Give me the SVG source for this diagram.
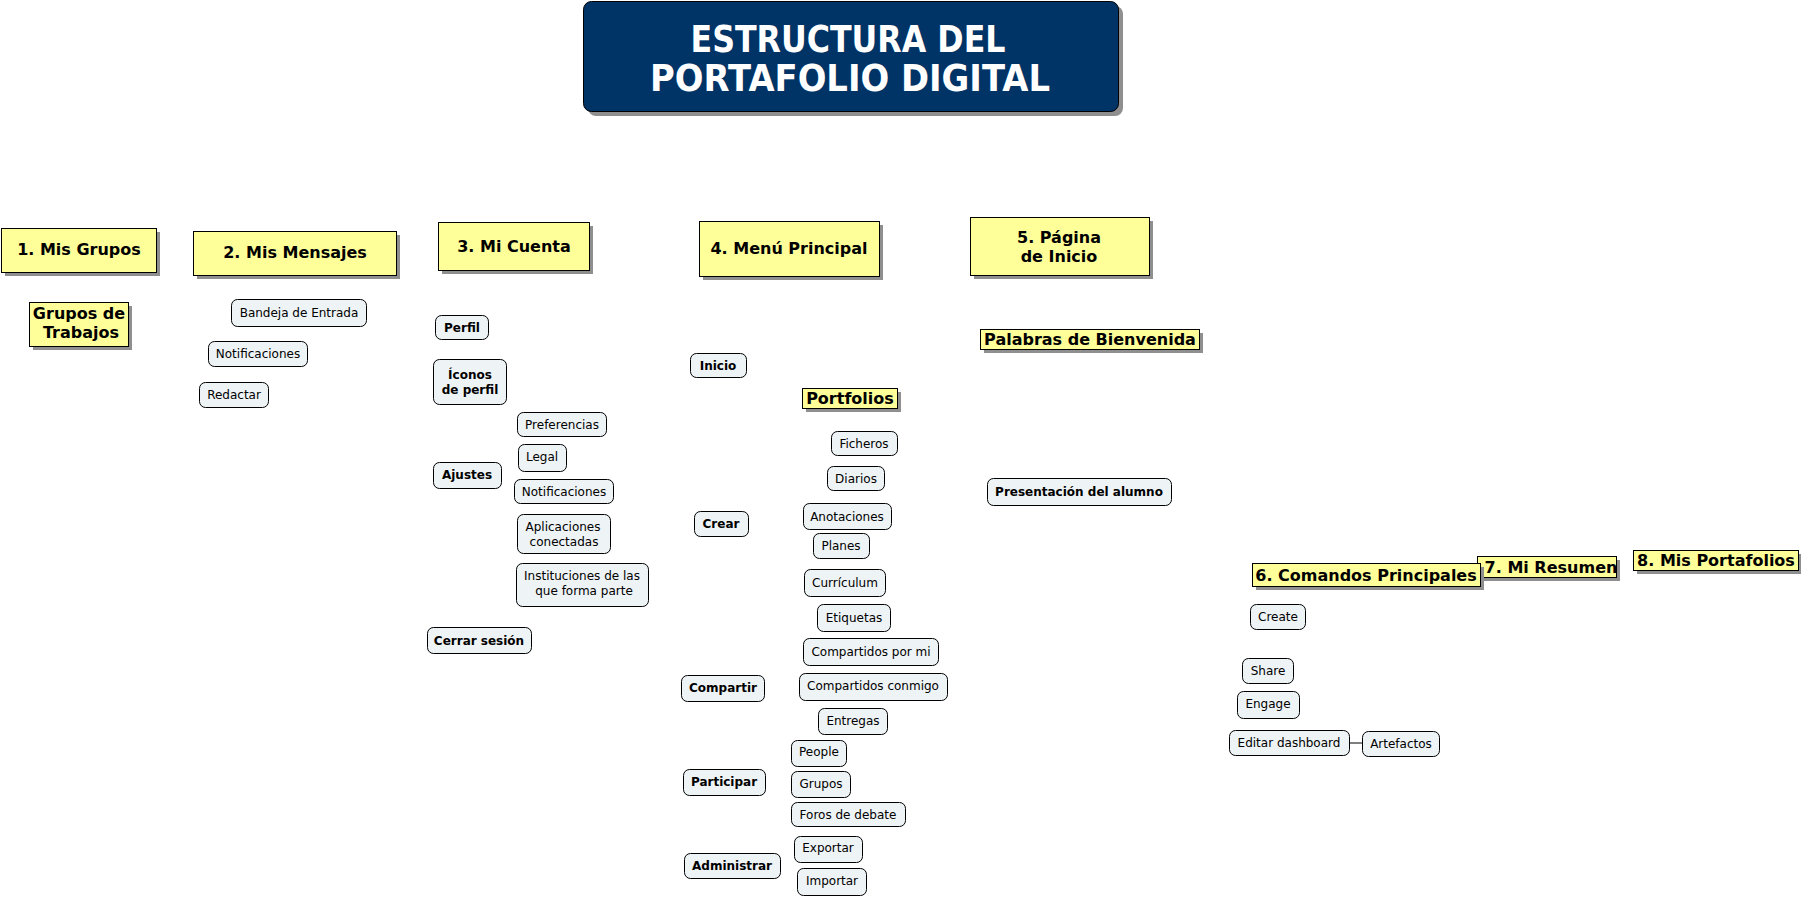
<svg xmlns="http://www.w3.org/2000/svg" width="1801" height="898" viewBox="0 0 1801 898">
<style>
  text { font-family: "DejaVu Sans", Verdana, sans-serif; fill: #000; text-anchor: middle; }
  .y { fill: #FFFF99; stroke: #000; stroke-width: 1; }
  .sh { fill: #8f8f8f; }
  .n { fill: #EEF3F5; stroke: #000; stroke-width: 1; }
  .b16 { font-size: 16px; font-weight: bold; }
  .b12 { font-size: 12px; font-weight: bold; }
  .r12 { font-size: 12px; }
  .title { font-size: 38px; font-weight: bold; fill: #fff; }
  .conn { stroke: #000; stroke-width: 1; fill: none; }
</style>
<rect width="1801" height="898" fill="#fff"/>

<g id="title">
  <rect x="588" y="6" width="535" height="110" rx="8" class="sh"/>
  <rect x="583.5" y="1.5" width="535" height="110" rx="8" fill="#003366" stroke="#000" stroke-width="1"/>
  <text x="848" y="52" class="title" textLength="315" lengthAdjust="spacingAndGlyphs">ESTRUCTURA DEL</text>
  <text x="850" y="91" class="title" textLength="400" lengthAdjust="spacingAndGlyphs">PORTAFOLIO DIGITAL</text>
</g>

<g id="connectors">
  <line x1="1349" y1="743" x2="1362" y2="743" class="conn"/>
</g>

<g id="n1">
  <rect x="5" y="232" width="155" height="44" class="sh"/>
  <rect x="1.5" y="228.5" width="155" height="44" class="y"/>
  <text x="79" y="255" class="b16">1. Mis Grupos</text>
</g>
<g id="n2">
  <rect x="197" y="235" width="203" height="44" class="sh"/>
  <rect x="193.5" y="231.5" width="203" height="44" class="y"/>
  <text x="295" y="258" class="b16">2. Mis Mensajes</text>
</g>
<g id="n3">
  <rect x="442" y="226" width="151" height="48" class="sh"/>
  <rect x="438.5" y="222.5" width="151" height="48" class="y"/>
  <text x="514" y="252" class="b16">3. Mi Cuenta</text>
</g>
<g id="n4">
  <rect x="703" y="225" width="180" height="55" class="sh"/>
  <rect x="699.5" y="221.5" width="180" height="55" class="y"/>
  <text x="789" y="254" class="b16">4. Menú Principal</text>
</g>
<g id="n5">
  <rect x="974" y="221" width="179" height="58" class="sh"/>
  <rect x="970.5" y="217.5" width="179" height="58" class="y"/>
  <text x="1059" y="243" class="b16">5. Página</text>
  <text x="1059" y="262" class="b16">de Inicio</text>
</g>
<g id="grupos-trabajos">
  <rect x="33" y="306" width="99" height="44" class="sh"/>
  <rect x="29.5" y="302.5" width="99" height="44" class="y"/>
  <text x="79" y="319" class="b16">Grupos de</text>
  <text x="81" y="338" class="b16">Trabajos</text>
</g>
<g id="portfolios">
  <rect x="806" y="392" width="95" height="20" class="sh"/>
  <rect x="802.5" y="388.5" width="95" height="20" class="y"/>
  <text x="850" y="404" class="b16">Portfolios</text>
</g>
<g id="palabras">
  <rect x="984" y="333" width="219" height="20" class="sh"/>
  <rect x="980.5" y="329.5" width="219" height="20" class="y"/>
  <text x="1090" y="345" class="b16">Palabras de Bienvenida</text>
</g>
<g id="n7">
  <rect x="1481" y="560" width="139" height="21" class="sh"/>
  <rect x="1477.5" y="556.5" width="139" height="21" class="y"/>
  <text x="1551" y="573" class="b16">7. Mi Resumen</text>
</g>
<g id="n6">
  <rect x="1256" y="567" width="228" height="23" class="sh"/>
  <rect x="1252.5" y="563.5" width="228" height="23" class="y"/>
  <text x="1366" y="581" class="b16">6. Comandos Principales</text>
</g>
<g id="n8">
  <rect x="1637" y="554" width="165" height="20" class="sh"/>
  <rect x="1633.5" y="550.5" width="165" height="20" class="y"/>
  <text x="1716" y="566" class="b16">8. Mis Portafolios</text>
</g>

<g id="bandeja"><rect x="231.5" y="299.5" width="135" height="27" rx="6" class="n"/><text x="299" y="317" class="r12">Bandeja de Entrada</text></g>
<g id="notif1"><rect x="208.5" y="341.5" width="99" height="25" rx="6" class="n"/><text x="258" y="358" class="r12">Notificaciones</text></g>
<g id="redactar"><rect x="199.5" y="382.5" width="69" height="25" rx="6" class="n"/><text x="234" y="399" class="r12">Redactar</text></g>

<g id="perfil"><rect x="435.5" y="315.5" width="53" height="24" rx="6" class="n"/><text x="462" y="332" class="b12">Perfil</text></g>
<g id="iconos"><rect x="433.5" y="359.5" width="73" height="45" rx="6" class="n"/><text x="470" y="379" class="b12">Íconos</text><text x="470" y="394" class="b12">de perfil</text></g>
<g id="ajustes"><rect x="433.5" y="462.5" width="68" height="26" rx="6" class="n"/><text x="467" y="479" class="b12">Ajustes</text></g>
<g id="preferencias"><rect x="517.5" y="412.5" width="89" height="24" rx="6" class="n"/><text x="562" y="429" class="r12">Preferencias</text></g>
<g id="legal"><rect x="518.5" y="444.5" width="48" height="27" rx="6" class="n"/><text x="542" y="461" class="r12">Legal</text></g>
<g id="notif2"><rect x="514.5" y="479.5" width="99" height="24" rx="6" class="n"/><text x="564" y="496" class="r12">Notificaciones</text></g>
<g id="aplicaciones"><rect x="517.5" y="514.5" width="93" height="39" rx="6" class="n"/><text x="563" y="531" class="r12">Aplicaciones</text><text x="564" y="546" class="r12">conectadas</text></g>
<g id="instituciones"><rect x="516.5" y="563.5" width="132" height="43" rx="6" class="n"/><text x="582" y="580" class="r12">Instituciones de las</text><text x="584" y="595" class="r12">que forma parte</text></g>
<g id="cerrar"><rect x="427.5" y="627.5" width="104" height="26" rx="6" class="n"/><text x="479" y="645" class="b12">Cerrar sesión</text></g>

<g id="inicio"><rect x="690.5" y="353.5" width="56" height="24" rx="6" class="n"/><text x="718" y="370" class="b12">Inicio</text></g>
<g id="crear"><rect x="694.5" y="511.5" width="54" height="25" rx="6" class="n"/><text x="721" y="528" class="b12">Crear</text></g>
<g id="ficheros"><rect x="831.5" y="431.5" width="66" height="24" rx="6" class="n"/><text x="864" y="448" class="r12">Ficheros</text></g>
<g id="diarios"><rect x="827.5" y="466.5" width="57" height="24" rx="6" class="n"/><text x="856" y="483" class="r12">Diarios</text></g>
<g id="anotaciones"><rect x="803.5" y="503.5" width="88" height="26" rx="6" class="n"/><text x="847" y="521" class="r12">Anotaciones</text></g>
<g id="planes"><rect x="813.5" y="533.5" width="56" height="25" rx="6" class="n"/><text x="841" y="550" class="r12">Planes</text></g>
<g id="curriculum"><rect x="804.5" y="569.5" width="81" height="27" rx="6" class="n"/><text x="845" y="587" class="r12">Currículum</text></g>
<g id="etiquetas"><rect x="817.5" y="604.5" width="73" height="27" rx="6" class="n"/><text x="854" y="622" class="r12">Etiquetas</text></g>
<g id="compartidos-por-mi"><rect x="803.5" y="638.5" width="135" height="27" rx="6" class="n"/><text x="871" y="656" class="r12">Compartidos por mi</text></g>
<g id="compartir"><rect x="681.5" y="675.5" width="83" height="26" rx="6" class="n"/><text x="723" y="692" class="b12">Compartir</text></g>
<g id="compartidos-conmigo"><rect x="799.5" y="673.5" width="148" height="27" rx="6" class="n"/><text x="873" y="690" class="r12">Compartidos conmigo</text></g>
<g id="entregas"><rect x="818.5" y="708.5" width="69" height="26" rx="6" class="n"/><text x="853" y="725" class="r12">Entregas</text></g>
<g id="people"><rect x="791.5" y="740.5" width="55" height="26" rx="6" class="n"/><text x="819" y="756" class="r12">People</text></g>
<g id="participar"><rect x="683.5" y="769.5" width="82" height="26" rx="6" class="n"/><text x="724" y="786" class="b12">Participar</text></g>
<g id="grupos"><rect x="791.5" y="771.5" width="59" height="26" rx="6" class="n"/><text x="821" y="788" class="r12">Grupos</text></g>
<g id="foros"><rect x="791.5" y="802.5" width="114" height="24" rx="6" class="n"/><text x="848" y="819" class="r12">Foros de debate</text></g>
<g id="exportar"><rect x="794.5" y="836.5" width="68" height="26" rx="6" class="n"/><text x="828" y="852" class="r12">Exportar</text></g>
<g id="administrar"><rect x="684.5" y="853.5" width="96" height="25" rx="6" class="n"/><text x="732" y="870" class="b12">Administrar</text></g>
<g id="importar"><rect x="797.5" y="868.5" width="69" height="27" rx="6" class="n"/><text x="832" y="885" class="r12">Importar</text></g>

<g id="presentacion"><rect x="987.5" y="478.5" width="184" height="27" rx="6" class="n"/><text x="1079" y="496" class="b12">Presentación del alumno</text></g>

<g id="create"><rect x="1250.5" y="604.5" width="55" height="25" rx="6" class="n"/><text x="1278" y="621" class="r12">Create</text></g>
<g id="share"><rect x="1242.5" y="658.5" width="51" height="25" rx="6" class="n"/><text x="1268" y="675" class="r12">Share</text></g>
<g id="engage"><rect x="1237.5" y="691.5" width="62" height="27" rx="6" class="n"/><text x="1268" y="708" class="r12">Engage</text></g>
<g id="editar"><rect x="1229.5" y="730.5" width="120" height="25" rx="6" class="n"/><text x="1289" y="747" class="r12">Editar dashboard</text></g>
<g id="artefactos"><rect x="1362.5" y="731.5" width="77" height="25" rx="6" class="n"/><text x="1401" y="748" class="r12">Artefactos</text></g>
</svg>
